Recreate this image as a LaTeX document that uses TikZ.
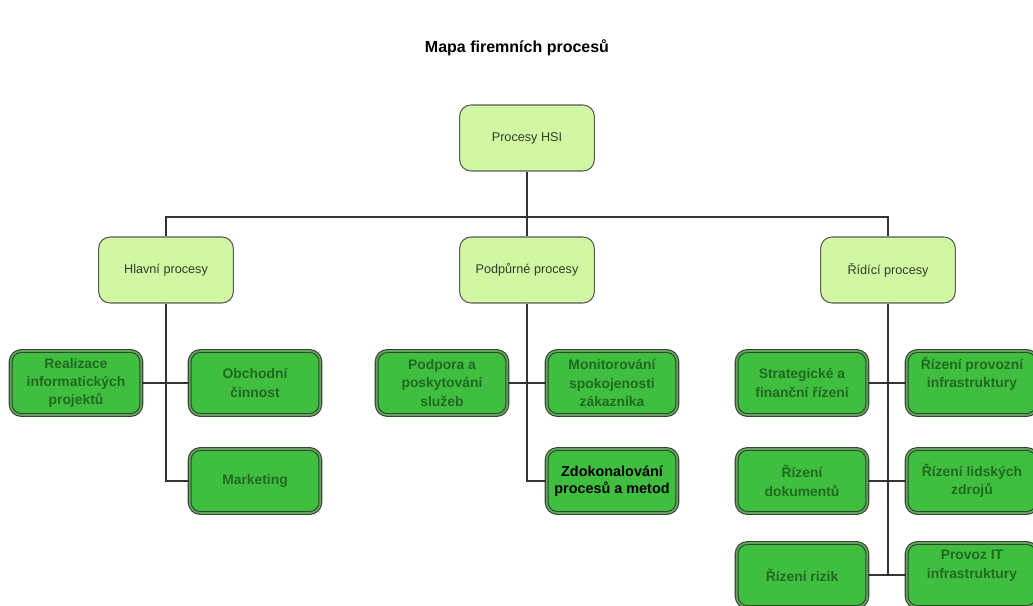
\documentclass[tikz,border=0pt]{standalone}
\usepackage{fontspec}
\setmainfont{Liberation Sans}
\begin{document}
\begin{tikzpicture}[x=0.75pt,y=-0.75pt,
  conn/.style={draw=black!80, line width=0.9pt},
  groupbox/.style={draw=black!65, line width=0.8pt, fill=limebg,
    rounded corners=8.5pt, minimum width=101pt, minimum height=49.5pt,
    inner sep=0pt, font=\fontsize{9.5}{11}\selectfont, text=textgrey},
  taskbox/.style={draw=boxedge, line width=0.8pt, double=boxstripe,
    double distance=1.3pt, fill=boxgreen, rounded corners=8pt,
    minimum width=98pt, minimum height=48pt, inner sep=0pt, align=center,
    font=\fontsize{10.4}{13.8}\selectfont\bfseries, text=boxtext},
  keybox/.style={taskbox, text=black, font=\fontsize{10.8}{13}\selectfont\bfseries},
  raised/.style={text depth=16pt}
]
\definecolor{limebg}{HTML}{D2F7A2}
\definecolor{textgrey}{HTML}{2E3E2A}
\definecolor{boxedge}{HTML}{2C4A2C}
\definecolor{boxstripe}{HTML}{6A9E62}
\definecolor{boxgreen}{HTML}{40BE40}
\definecolor{boxtext}{HTML}{206A20}

\useasboundingbox (0,0) rectangle (1033,606);

% title
\node[font=\fontsize{12}{14}\selectfont\bfseries] (title) at (517,48) {Mapa firemních procesů};

% top and group level
\node[groupbox] (hsi)    at (527,138) {Procesy HSI};
\node[groupbox] (hlavni) at (166,270) {Hlavní procesy};
\node[groupbox] (podp)   at (527,270) {Podpůrné procesy};
\node[groupbox] (rid)    at (888,270) {Řídící procesy};

% main processes
\node[taskbox] (real)  at (76,383)  {Realizace\\informatických\\projektů};
\node[taskbox] (obch)  at (255,383) {Obchodní\\činnost};
\node[taskbox] (mark)  at (255,481) {Marketing};

% support processes
\node[taskbox] (podpora) at (442,383) {Podpora a\\poskytování\\služeb};
\node[taskbox] (monit)   at (612,383) {Monitorování\\spokojenosti\\zákazníka};
\node[keybox]  (zdok)    at (612,481) {Zdokonalování\\procesů a metod};

% management processes
\node[taskbox] (strat)  at (802,383) {Strategické a\\finanční řízení};
\node[taskbox,raised] (provoz) at (972,383) {Řízení provozní\\infrastruktury};
\node[taskbox] (dok)    at (802,481) {Řízení\\dokumentů};
\node[taskbox] (lids)   at (972,481) {Řízení lidských\\zdrojů};
\node[taskbox] (rizik)  at (802,575) {Řízení rizik};
\node[taskbox,raised] (itinf)  at (972,575) {Provoz IT\\infrastruktury};

% connectors
\coordinate (bus) at (527,217);
\draw[conn] (hsi.south) -- (podp.north);
\draw[conn] (hlavni.north) -- (hlavni.north |- bus) -- (rid.north |- bus) -- (rid.north);

\draw[conn] (hlavni.south) |- (mark.west);
\draw[conn] (real.east) -- (obch.west);

\draw[conn] (podp.south) |- (zdok.west);
\draw[conn] (podpora.east) -- (monit.west);

\draw[conn] (rid.south) -- (rid.south |- rizik.east);
\draw[conn] (strat.east) -- (provoz.west);
\draw[conn] (dok.east) -- (lids.west);
\draw[conn] (rizik.east) -- (itinf.west);
\end{tikzpicture}
\end{document}
